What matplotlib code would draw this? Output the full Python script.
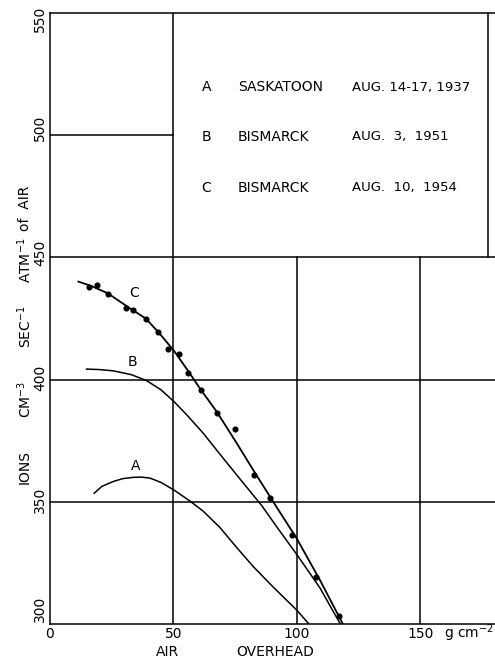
import matplotlib
matplotlib.use("Agg")
import matplotlib.pyplot as plt
from matplotlib.transforms import ScaledTranslation

plt.rcParams['font.family'] = ['DejaVu Sans']

# Measured points, curve C (Bismarck, Aug 10 1954)
c_pts_x = [15.9, 18.9, 23.4, 30.8, 33.7, 38.9, 43.7, 47.6, 52.4, 56.0, 61.0, 67.5, 74.9, 82.6, 89.1, 98.1, 107.6, 117.0]
c_pts_y = [437.8, 438.6, 434.9, 429.4, 428.6, 424.6, 419.5, 412.6, 410.6, 402.8, 395.8, 386.5, 379.7, 361.1, 351.6, 336.3, 319.4, 303.3]

# Curve C
c_x = [11.5, 17.0, 23.4, 31.0, 38.9, 44.5, 50.2, 55.9, 60.7, 67.5, 75.6, 82.6, 90.4, 99.9, 109.3, 118.8]
c_y = [440.1, 438.2, 435.3, 430.1, 424.9, 418.7, 411.8, 403.6, 396.4, 386.9, 374.0, 362.5, 350.0, 335.0, 318.0, 299.6]

# Curve B (Bismarck, Aug 3 1951)
b_x = [14.8, 20.0, 25.6, 33.0, 39.1, 45.0, 50.2, 55.0, 62.1, 68.0, 75.6, 85.7, 92.0, 99.9, 109.3, 117.4]
b_y = [404.3, 404.1, 403.6, 402.0, 399.6, 395.8, 391.0, 386.0, 378.0, 370.5, 361.0, 348.5, 339.5, 328.5, 314.8, 300.3]

# Curve A (Saskatoon, Aug 14-17 1937)
a_x = [17.9, 21.0, 25.6, 29.5, 33.7, 37.0, 40.5, 45.0, 50.2, 56.7, 62.0, 68.8, 75.0, 82.3, 90.0, 99.9, 104.6]
a_y = [353.5, 356.3, 358.3, 359.5, 360.0, 360.1, 359.7, 357.9, 354.8, 350.3, 346.2, 339.5, 332.0, 323.5, 315.5, 305.7, 300.3]

curve_labels = ["A", "B", "C"]
curve_label_x = [34.8, 33.3, 34.0]
curve_label_y = [364.7, 407.1, 435.4]

legend_letters = ["A", "B", "C"]
legend_sites = ["SASKATOON", "BISMARCK", "BISMARCK"]
legend_dates = ["AUG. 14-17, 1937", "AUG.  3,  1951", "AUG.  10,  1954"]
legend_y = [519.6, 499.3, 478.4]

x_ticks = [0, 50, 100, 150]
x_ticklabels = ["0", "50", "100", "150"]
y_ticks = [300, 350, 400, 450, 500, 550]
y_ticklabels = ["300", "350", "400", "450", "500", "550"]

fig = plt.figure(figsize=(4.95, 6.58), dpi=100)
ax = fig.add_axes([50/495, 34/658, 445/495, 611/658])
ax.set_xlim(0, 180.2)
ax.set_ylim(300, 550)

lw_grid = 1.1
# grid / frame lines
for yv in [350, 400, 450]:
    ax.plot([0, 180.2], [yv, yv], color='black', lw=lw_grid, solid_capstyle='butt')
ax.plot([0, 50], [500, 500], color='black', lw=lw_grid)
ax.plot([50, 50], [300, 550], color='black', lw=lw_grid)
for xv in [100, 150]:
    ax.plot([xv, xv], [300, 450], color='black', lw=lw_grid)
ax.plot([177.3, 177.3], [450, 550], color='black', lw=lw_grid)

ax.spines['right'].set_visible(False)
for s in ['left', 'bottom', 'top']:
    ax.spines[s].set_linewidth(lw_grid)

# curves
ax.plot(a_x, a_y, color='black', lw=1.1)
ax.plot(b_x, b_y, color='black', lw=1.1)
ax.plot(c_x, c_y, color='black', lw=1.3)
ax.plot(c_pts_x, c_pts_y, 'o', color='black', ms=3.4)

for lab, lx, ly in zip(curve_labels, curve_label_x, curve_label_y):
    ax.text(lx, ly, lab, ha='center', va='center', fontsize=10)

for let, site, date, ly in zip(legend_letters, legend_sites, legend_dates, legend_y):
    ax.text(63.4, ly, let, ha='center', va='center', fontsize=10)
    ax.text(76.1, ly, site, ha='left', va='center', fontsize=10)
    ax.text(122.3, ly, date, ha='left', va='center', fontsize=9.5)

ax.set_xticks(x_ticks)
ax.set_xticklabels(x_ticklabels, fontsize=10)
ax.set_yticks(y_ticks)
ax.set_yticklabels(y_ticklabels, fontsize=10, rotation=90, va='center')
ax.tick_params(axis='both', length=0)
ax.tick_params(axis='y', pad=2)
ax.tick_params(axis='x', pad=2)

# shift y tick labels slightly (pixel offsets measured from reference)
shift_px = {300: 15, 350: 2, 400: 2, 450: 5, 500: 7, 550: -6}
for val, lab in zip(y_ticks, ax.get_yticklabels()):
    dy = shift_px[val] / 100.0
    lab.set_transform(lab.get_transform() + ScaledTranslation(0, dy, fig.dpi_scale_trans))

# x-axis unit and label
fig.text(494/495, 1 - 633/658, "g cm$^{-2}$", ha='right', va='center', fontsize=10)
fig.text(167/495, 1 - 652/658, "AIR", ha='center', va='center', fontsize=10)
fig.text(275/495, 1 - 652/658, "OVERHEAD", ha='center', va='center', fontsize=10)

# y-axis label pieces
ylab = [("IONS", 467), ("CM$^{-3}$", 399), ("SEC$^{-1}$", 327), ("ATM$^{-1}$", 260), ("of  AIR", 208)]
for t, py in ylab:
    fig.text(25/495, 1 - py/658, t, ha='center', va='center', rotation=90, fontsize=10)

fig.savefig("out.png", dpi=100)
